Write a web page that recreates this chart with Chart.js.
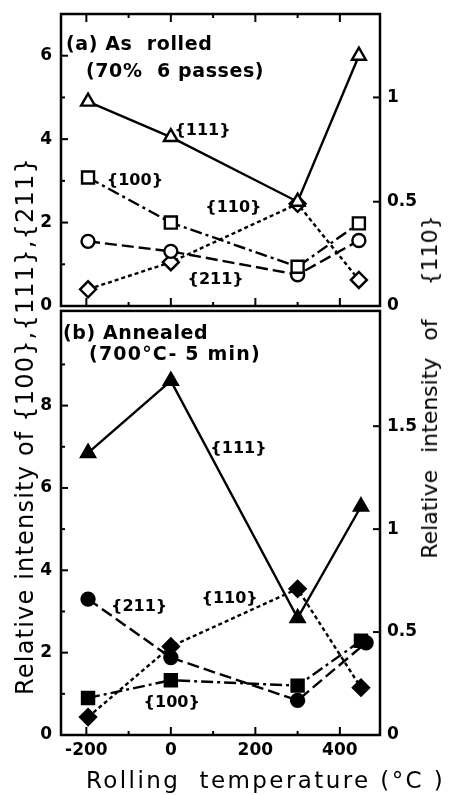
<!DOCTYPE html>
<html>
<head>
  <meta charset="utf-8">
  <title>Relative intensity vs rolling temperature</title>
  <script src="https://cdn.jsdelivr.net/npm/chart.js@4.4.0/dist/chart.umd.min.js"></script>
  <style>
    body { margin:0; background:#fff; font-family:"DejaVu Sans", sans-serif; }
    #wrap { position:relative; width:451px; height:795px; overflow:hidden; background:#fff; }
    canvas { position:absolute; left:0; }
    .t { position:absolute; white-space:pre; color:#000; line-height:1; }
    .rot { transform:translate(-50%, -50%) rotate(-90deg); }
    .note { font-size:19px; font-weight:bold; letter-spacing:0.6px; transform:translateY(-50%); }
  </style>
</head>
<body>
<div id="wrap">
  <canvas id="topCanvas" width="451" height="322" style="top:0"></canvas>
  <canvas id="botCanvas" width="451" height="495" style="top:300px"></canvas>

  <div class="t note" style="left:66px; top:43px;">(a) As  rolled</div>
  <div class="t note" style="left:86px; top:70px;">(70%  6 passes)</div>
  <div class="t note" style="left:63px; top:332px;">(b) Annealed</div>
  <div class="t note" style="left:89px; top:353px; letter-spacing:1.2px;">(700°C- 5 min)</div>

  <div class="t rot" style="left:25px; top:426px; font-size:24px; letter-spacing:1.2px;">Relative intensity of {100},{111},{211}</div>
  <div class="t rot" style="left:430px; top:387px; font-size:22px; word-spacing:10px;">Relative intensity of  {110}</div>
  <div class="t" style="left:86px; top:769px; font-size:23px; letter-spacing:2.4px;">Rolling  temperature (°C )</div>
</div>

<script>
  // rolling temperature (°C) for each measured sample
  const tempA = [-196, 0, 300, 445];
  const tempB = [-196, 0, 300, 450];
  const tempB211 = [-196, 0, 300, 462];

  // (a) as rolled, left axis {100},{111},{211}, right axis {110}
  const rolled111 = [4.9, 4.05, 2.5, 6.0];
  const rolled100 = [3.08, 2.0, 0.94, 1.98];
  const rolled211 = [1.55, 1.31, 0.75, 1.57];
  const rolled110 = [0.08, 0.21, 0.49, 0.125];

  // (b) annealed 700°C - 5 min
  const annealed111 = [6.85, 8.6, 2.84, 5.55];
  const annealed211 = [3.3, 1.88, 0.84, 2.24];
  const annealed100 = [0.9, 1.33, 1.2, 2.29];
  const annealed110 = [0.087, 0.43, 0.71, 0.23];

  // ticks
  const xTicks = [-200, 0, 200, 400];
  const xMinor = [-100, 100, 300];
  const yTicksA = [0, 2, 4, 6];
  const yMinorA = [1, 3, 5];
  const y2TicksA = [0, 0.5, 1];
  const yTicksB = [0, 2, 4, 6, 8];
  const yMinorB = [1, 3, 5, 7, 9];
  const y2TicksB = [0, 0.5, 1, 1.5];

  const TICK_FONT = {family: "DejaVu Sans", size: 17, weight: 'bold'};

  function pts(xs, ys) { return xs.map((x, i) => ({x, y: ys[i]})); }

  // frame + inward tick marks, positioned by the chart's own scales
  const framePlugin = {
    id: 'frame',
    afterDraw(chart, args, opts) {
      let {ctx, chartArea: a, scales} = chart;
      let line = (x1, y1, x2, y2) => { ctx.beginPath(); ctx.moveTo(x1, y1); ctx.lineTo(x2, y2); ctx.stroke(); };
      ctx.save();
      ctx.strokeStyle = '#000';
      ctx.lineWidth = 2.5;
      ctx.strokeRect(a.left, a.top, a.width, a.height);
      ctx.lineWidth = 2;
      for (let v of xTicks) {
        let px = scales.x.getPixelForValue(v);
        line(px, a.bottom, px, a.bottom - 8);
        if (opts.topTicks) line(px, a.top, px, a.top + 8);
      }
      for (let v of xMinor) {
        let px = scales.x.getPixelForValue(v);
        line(px, a.bottom, px, a.bottom - 4);
        if (opts.topTicks) line(px, a.top, px, a.top + 4);
      }
      for (let v of opts.yMajor) {
        let py = scales.y.getPixelForValue(v);
        line(a.left, py, a.left + 7, py);
      }
      for (let v of opts.yMinor) {
        let py = scales.y.getPixelForValue(v);
        line(a.left, py, a.left + 4, py);
      }
      for (let v of opts.y2Major) {
        let py = scales.y2.getPixelForValue(v);
        line(a.right, py, a.right - 7, py);
      }
      ctx.restore();
    }
  };

  // {hkl} labels, placed in data units of the left axis
  const notesA = [
    {text: '{111}', x: 75, y: 4.2},
    {text: '{100}', x: -85, y: 3.0},
    {text: '{110}', x: 148, y: 2.35},
    {text: '{211}', x: 106, y: 0.62},
  ];
  const notesB = [
    {text: '{111}', x: 160, y: 6.95},
    {text: '{211}', x: -75, y: 3.12},
    {text: '{110}', x: 139, y: 3.3},
    {text: '{100}', x: 2, y: 0.77},
  ];
  const notePlugin = {
    id: 'notes',
    afterDatasetsDraw(chart, args, opts) {
      let {ctx, scales} = chart;
      ctx.save();
      ctx.font = "bold 16px 'DejaVu Sans'";
      ctx.textAlign = 'center';
      ctx.textBaseline = 'middle';
      ctx.fillStyle = '#000';
      for (let n of opts.items) {
        ctx.fillText(n.text, scales.x.getPixelForValue(n.x), scales.y.getPixelForValue(n.y));
      }
      ctx.restore();
    }
  };

  function series(data, style, axis, filled, dash) {
    let radius = {triangle: 8, rect: 8.5, circle: 6.5, rectRot: 8}[style];
    return {
      data, yAxisID: axis,
      borderColor: '#000', borderWidth: 2.4, borderDash: dash,
      pointStyle: style, pointRadius: radius,
      pointBackgroundColor: filled ? '#000' : '#fff',
      pointBorderColor: '#000', pointBorderWidth: 2.4,
      tension: 0,
    };
  }

  const SOLID = [], DASHDOT = [12, 4, 3, 4], LONGDASH = [12, 5], SHORTDASH = [4, 3];

  // no extra room for half-height tick labels at the ends of the axes
  function noPad(s) { s.paddingTop = 0; s.paddingBottom = 0; s.paddingLeft = 0; s.paddingRight = 0; }

  function makeChart(canvas, {datasets, yMax, y2Max, yTicks, yMinor, y2Ticks, showX, notes, padding, topTicks}) {
    return new Chart(canvas, {
      type: 'line',
      data: {datasets},
      plugins: [framePlugin, notePlugin],
      options: {
        responsive: false,
        animation: false,
        layout: {padding},
        plugins: {
          legend: {display: false},
          tooltip: {enabled: false},
          frame: {yMajor: yTicks, yMinor, y2Major: y2Ticks, topTicks},
          notes: {items: notes},
        },
        scales: {
          x: {
            type: 'linear', min: -260, max: 495,
            grid: {display: false, drawTicks: false}, border: {display: false},
            afterBuildTicks: s => { s.ticks = xTicks.map(v => ({value: v})); },
            afterFit: s => { s.height = showX ? 60 : 0; noPad(s); },
            ticks: {display: showX, padding: 5, color: '#000', font: TICK_FONT},
          },
          y: {
            position: 'left', min: 0, max: yMax,
            grid: {display: false, drawTicks: false}, border: {display: false},
            afterBuildTicks: s => { s.ticks = yTicks.map(v => ({value: v})); },
            afterFit: s => { s.width = 61; noPad(s); },
            ticks: {padding: 9, color: '#000', font: TICK_FONT, callback: v => String(v)},
          },
          y2: {
            position: 'right', min: 0, max: y2Max,
            grid: {display: false, drawTicks: false}, border: {display: false},
            afterBuildTicks: s => { s.ticks = y2Ticks.map(v => ({value: v})); },
            afterFit: s => { s.width = 71; noPad(s); },
            ticks: {padding: 7, color: '#000', font: TICK_FONT, callback: v => String(v)},
          },
        },
      },
    });
  }

  makeChart(topCanvas, {
    datasets: [
      series(pts(tempA, rolled111), 'triangle', 'y', false, SOLID),
      series(pts(tempA, rolled100), 'rect', 'y', false, DASHDOT),
      series(pts(tempA, rolled211), 'circle', 'y', false, LONGDASH),
      series(pts(tempA, rolled110), 'rectRot', 'y2', false, SHORTDASH),
    ],
    yMax: 7, y2Max: 1.4,
    yTicks: yTicksA, yMinor: yMinorA, y2Ticks: y2TicksA,
    showX: false, notes: notesA, topTicks: true,
    padding: {top: 14, bottom: 16, left: 0, right: 0},
  });

  makeChart(botCanvas, {
    datasets: [
      series(pts(tempB, annealed111), 'triangle', 'y', true, SOLID),
      series(pts(tempB211, annealed211), 'circle', 'y', true, LONGDASH),
      series(pts(tempB, annealed100), 'rect', 'y', true, DASHDOT),
      series(pts(tempB, annealed110), 'rectRot', 'y2', true, SHORTDASH),
    ],
    yMax: 10.3, y2Max: 2.06,
    yTicks: yTicksB, yMinor: yMinorB, y2Ticks: y2TicksB,
    showX: true, notes: notesB, topTicks: false,
    padding: {top: 6, bottom: 0, left: 0, right: 0},
  });
</script>
</body>
</html>
